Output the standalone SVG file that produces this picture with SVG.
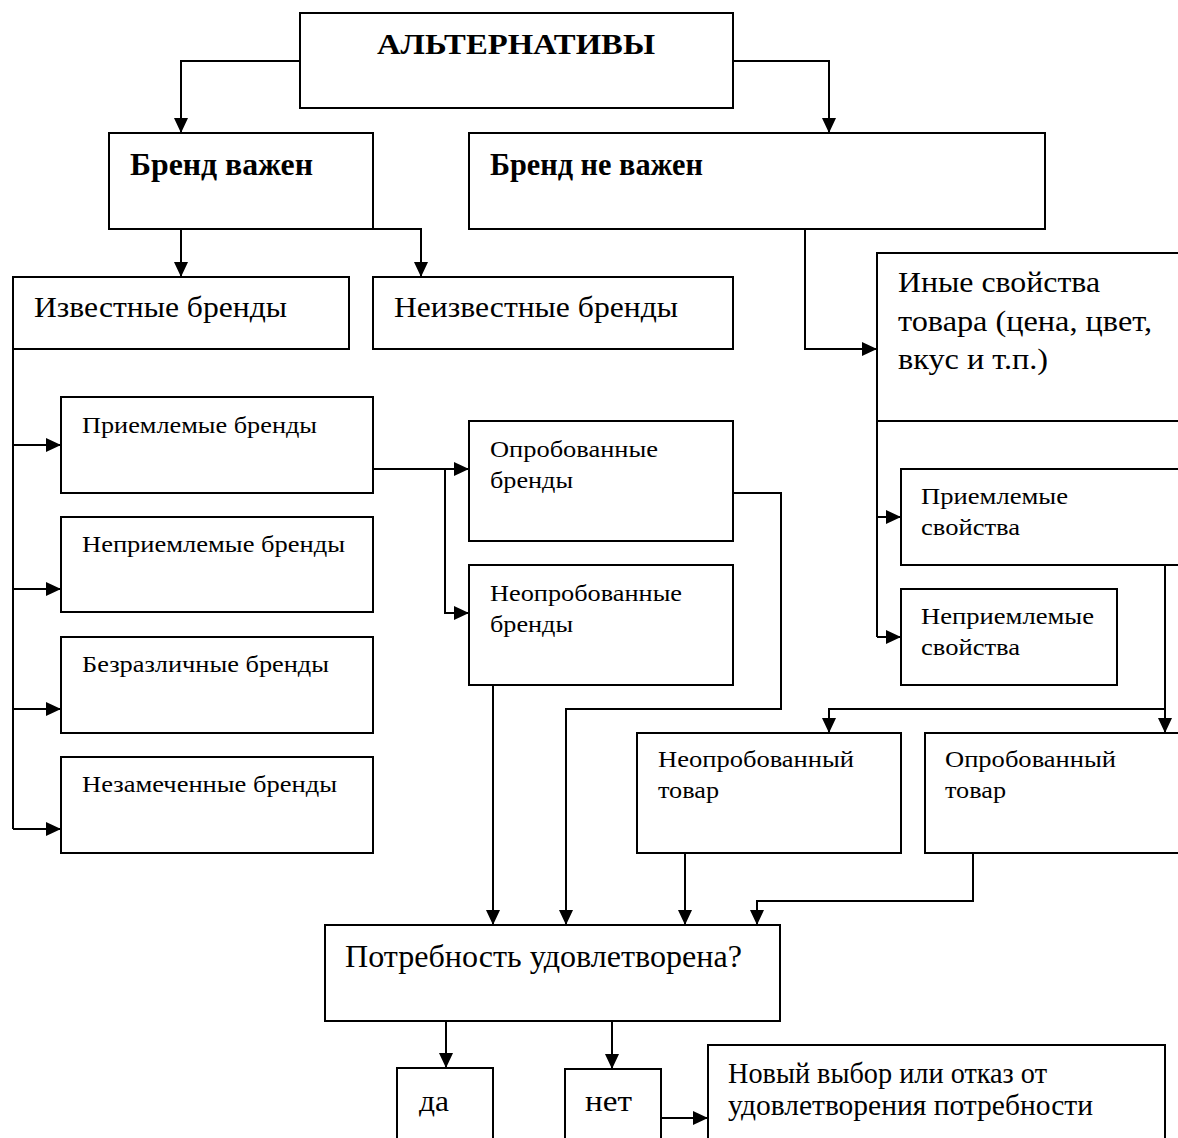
<svg xmlns="http://www.w3.org/2000/svg" width="1178" height="1138" viewBox="0 0 1178 1138">
<defs>
<marker id="ah" viewBox="0 0 15 14" refX="15" refY="7" markerWidth="15" markerHeight="14" markerUnits="userSpaceOnUse" orient="auto">
<path d="M0,0 L15,7 L0,14 z" fill="#000"/>
</marker>
<style>
.box{fill:#fff;stroke:#000;stroke-width:2}
.c{fill:none;stroke:#000;stroke-width:2;marker-end:url(#ah)}
.p{fill:none;stroke:#000;stroke-width:2}
.t{font-family:"Liberation Serif","Times New Roman",serif;fill:#000}
.b{font-weight:bold}
.L{font-size:29px}
.S{font-size:24px}
</style>
</defs>
<rect width="1178" height="1138" fill="#fff"/>

<g id="connectors">
<path class="c" d="M300,61 H181 V133"/>
<path class="c" d="M733,61 H829 V133"/>
<path class="c" d="M181,229 V277"/>
<path class="c" d="M373,229 H421 V277"/>
<path class="c" d="M805,229 V349 H877"/>
<path class="p" d="M13,349 V829"/>
<path class="c" d="M13,445 H61"/>
<path class="c" d="M13,589 H61"/>
<path class="c" d="M13,709 H61"/>
<path class="c" d="M13,829 H61"/>
<path class="c" d="M373,469 H469"/>
<path class="c" d="M445,469 V613 H469"/>
<path class="c" d="M733,493 H781 V709 H566 V925"/>
<path class="c" d="M493,685 V925"/>
<path class="p" d="M877,421 V637"/>
<path class="c" d="M877,517 H901"/>
<path class="c" d="M877,637 H901"/>
<path class="c" d="M1165,565 V733"/>
<path class="c" d="M1165,709 H829 V733"/>
<path class="c" d="M685,853 V925"/>
<path class="c" d="M973,853 V901 H757 V925"/>
<path class="c" d="M446,1021 V1068"/>
<path class="c" d="M612,1021 V1069"/>
<path class="c" d="M661,1118 H708"/>
</g>

<g id="alternatives">
<rect class="box" x="300" y="13" width="433" height="95"/>
<text class="t b" x="377" y="54" font-size="29" textLength="278" lengthAdjust="spacingAndGlyphs">АЛЬТЕРНАТИВЫ</text>
</g>
<g id="brand-important">
<rect class="box" x="109" y="133" width="264" height="96"/>
<text class="t b" x="130" y="175" font-size="32" textLength="183" lengthAdjust="spacingAndGlyphs">Бренд важен</text>
</g>
<g id="brand-not-important">
<rect class="box" x="469" y="133" width="576" height="96"/>
<text class="t b" x="490" y="175" font-size="32" textLength="213" lengthAdjust="spacingAndGlyphs">Бренд не важен</text>
</g>
<g id="known-brands">
<rect class="box" x="13" y="277" width="336" height="72"/>
<text class="t L" x="34" y="317" textLength="253" lengthAdjust="spacingAndGlyphs">Известные бренды</text>
</g>
<g id="unknown-brands">
<rect class="box" x="373" y="277" width="360" height="72"/>
<text class="t L" x="394" y="317" textLength="284" lengthAdjust="spacingAndGlyphs">Неизвестные бренды</text>
</g>
<g id="other-properties">
<rect class="box" x="877" y="253" width="320" height="168"/>
<text class="t L" x="898" y="292" textLength="202" lengthAdjust="spacingAndGlyphs">Иные свойства</text>
<text class="t L" x="898" y="331" textLength="254" lengthAdjust="spacingAndGlyphs">товара (цена, цвет,</text>
<text class="t L" x="898" y="369" textLength="150" lengthAdjust="spacingAndGlyphs">вкус и т.п.)</text>
</g>
<g id="acceptable-brands">
<rect class="box" x="61" y="397" width="312" height="96"/>
<text class="t S" x="82" y="433" textLength="235" lengthAdjust="spacingAndGlyphs">Приемлемые бренды</text>
</g>
<g id="unacceptable-brands">
<rect class="box" x="61" y="517" width="312" height="95"/>
<text class="t S" x="82" y="552" textLength="263" lengthAdjust="spacingAndGlyphs">Неприемлемые бренды</text>
</g>
<g id="indifferent-brands">
<rect class="box" x="61" y="637" width="312" height="96"/>
<text class="t S" x="82" y="672" textLength="247" lengthAdjust="spacingAndGlyphs">Безразличные бренды</text>
</g>
<g id="unnoticed-brands">
<rect class="box" x="61" y="757" width="312" height="96"/>
<text class="t S" x="82" y="792" textLength="255" lengthAdjust="spacingAndGlyphs">Незамеченные бренды</text>
</g>
<g id="tried-brands">
<rect class="box" x="469" y="421" width="264" height="120"/>
<text class="t S" x="490" y="457" textLength="168" lengthAdjust="spacingAndGlyphs">Опробованные</text>
<text class="t S" x="490" y="488" textLength="83" lengthAdjust="spacingAndGlyphs">бренды</text>
</g>
<g id="untried-brands">
<rect class="box" x="469" y="565" width="264" height="120"/>
<text class="t S" x="490" y="601" textLength="192" lengthAdjust="spacingAndGlyphs">Неопробованные</text>
<text class="t S" x="490" y="632" textLength="83" lengthAdjust="spacingAndGlyphs">бренды</text>
</g>
<g id="acceptable-properties">
<rect class="box" x="901" y="469" width="296" height="96"/>
<text class="t S" x="921" y="504" textLength="147" lengthAdjust="spacingAndGlyphs">Приемлемые</text>
<text class="t S" x="921" y="535" textLength="99" lengthAdjust="spacingAndGlyphs">свойства</text>
</g>
<g id="unacceptable-properties">
<rect class="box" x="901" y="589" width="216" height="96"/>
<text class="t S" x="921" y="624" textLength="173" lengthAdjust="spacingAndGlyphs">Неприемлемые</text>
<text class="t S" x="921" y="655" textLength="99" lengthAdjust="spacingAndGlyphs">свойства</text>
</g>
<g id="untried-product">
<rect class="box" x="637" y="733" width="264" height="120"/>
<text class="t S" x="658" y="767" textLength="196" lengthAdjust="spacingAndGlyphs">Неопробованный</text>
<text class="t S" x="658" y="798" textLength="61" lengthAdjust="spacingAndGlyphs">товар</text>
</g>
<g id="tried-product">
<rect class="box" x="925" y="733" width="272" height="120"/>
<text class="t S" x="945" y="767" textLength="171" lengthAdjust="spacingAndGlyphs">Опробованный</text>
<text class="t S" x="945" y="798" textLength="61" lengthAdjust="spacingAndGlyphs">товар</text>
</g>
<g id="need-satisfied">
<rect class="box" x="325" y="925" width="455" height="96"/>
<text class="t" x="345" y="967" font-size="32" textLength="397" lengthAdjust="spacingAndGlyphs">Потребность удовлетворена?</text>
</g>
<g id="yes">
<rect class="box" x="397" y="1068" width="96" height="90"/>
<text class="t L" x="419" y="1111" textLength="30" lengthAdjust="spacingAndGlyphs">да</text>
</g>
<g id="no">
<rect class="box" x="565" y="1069" width="96" height="90"/>
<text class="t L" x="585" y="1111" textLength="47" lengthAdjust="spacingAndGlyphs">нет</text>
</g>
<g id="new-choice">
<rect class="box" x="708" y="1045" width="457" height="110"/>
<text class="t L" x="728" y="1083" textLength="319" lengthAdjust="spacingAndGlyphs">Новый выбор или отказ от</text>
<text class="t L" x="728" y="1115" textLength="365" lengthAdjust="spacingAndGlyphs">удовлетворения потребности</text>
</g>
</svg>
